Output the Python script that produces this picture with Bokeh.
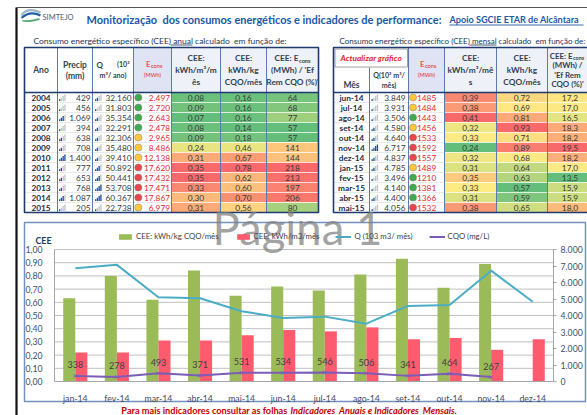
import numpy as np
from bokeh.plotting import figure
from bokeh.models import Range1d, LinearAxis, FixedTicker, CustomJSTickFormatter, Legend, LegendItem
from bokeh.core.properties import value
from bokeh.embed import file_html
from bokeh.resources import INLINE

# ---------------- data ----------------
years = ["2004", "2005", "2006", "2007", "2008", "2009", "2010", "2011", "2012", "2013", "2014", "2015"]
precip_mm = [429, 456, 1069, 394, 638, 708, 1400, 777, 653, 768, 1087, 205]
q_year = [32160, 31803, 35354, 32291, 32306, 35480, 39410, 50892, 50441, 53708, 60367, 22738]
econs_year = [2497, 2720, 2643, 2478, 2965, 8486, 12138, 17620, 17432, 17471, 17867, 6979]
cee_m3_year = [0.08, 0.09, 0.07, 0.08, 0.09, 0.24, 0.31, 0.35, 0.35, 0.33, 0.30, 0.31]
cee_kg_year = [0.16, 0.16, 0.16, 0.14, 0.18, 0.46, 0.67, 0.78, 0.62, 0.60, 0.70, 0.56]
cee_ef_year = [64, 68, 77, 57, 57, 141, 144, 218, 213, 197, 206, 80]

months_tab = ["jun-14", "jul-14", "ago-14", "set-14", "out-14", "nov-14", "dez-14",
              "jan-15", "fev-15", "mar-15", "abr-15", "mai-15"]
q_month = [3849, 3931, 3506, 4580, 4640, 6717, 4837, 4785, 3496, 4140, 4400, 4056]
econs_month = [1485, 1484, 1443, 1456, 1533, 1592, 1557, 1489, 1210, 1381, 1366, 1532]
cee_m3_month = [0.39, 0.38, 0.41, 0.32, 0.33, 0.24, 0.32, 0.31, 0.35, 0.33, 0.31, 0.38]
cee_kg_month = [0.72, 0.69, 0.81, 0.93, 0.71, 0.89, 0.68, 0.64, 0.63, 0.57, 0.59, 0.65]
cee_ef_month = [17.2, 17.0, 16.5, 18.3, 18.2, 19.5, 18.2, 17.0, 13.5, 15.9, 15.9, 18.0]

chart_months = ["jan-14", "fev-14", "mar-14", "abr-14", "mai-14", "jun-14",
                "jul-14", "ago-14", "set-14", "out-14", "nov-14", "dez-14"]
chart_cee_kg = [0.63, 0.80, 0.62, 0.84, 0.65, 0.72, 0.69, 0.81, 0.93, 0.71, 0.89, None]
chart_cee_m3 = [0.22, 0.22, 0.31, 0.31, 0.35, 0.39, 0.38, 0.41, 0.32, 0.33, 0.24, 0.32]
chart_q = [6870, 7070, 5110, 5050, 4260, 3849, 3931, 3506, 4580, 4640, 6717, 4837]
chart_cqo = [338, 278, 493, 371, 531, 534, 546, 506, 341, 464, 267, None]

# ---------------- helpers ----------------
def f_thou(v):
    return f"{int(round(v)):,}".replace(",", ".")

def f_dec(v, n):
    return f"{v:.{n}f}".replace(".", ",")

GREEN, YELLOW, RED = (99, 190, 123), (255, 235, 132), (248, 105, 107)

def mix(a, b, t):
    return "#%02x%02x%02x" % tuple(int(round(a[i] + (b[i] - a[i]) * t)) for i in range(3))

def scale3(vals):
    v = np.asarray(vals, float)
    lo, mid, hi = v.min(), np.median(v), v.max()
    out = []
    for x in v:
        if x <= mid:
            out.append(mix(GREEN, YELLOW, 0 if mid == lo else (x - lo) / (mid - lo)))
        else:
            out.append(mix(YELLOW, RED, (x - mid) / (hi - mid)))
    return out

L_G, L_Y, L_R = "#3faa4f", "#ffc83a", "#e8454c"
def traffic(vals):
    r = np.argsort(np.argsort(vals))
    n = len(vals)
    return [L_G if k < n / 3 else (L_Y if k < 2 * n / 3 else L_R) for k in r]

def level4(vals):
    v = np.asarray(vals, float)
    t = (v - v.min()) / (v.max() - v.min())
    return np.minimum(4, (t * 4).astype(int) + 1)

# ---------------- canvas ----------------
X0, X1, Y0, Y1 = 0.0, 587.0, 0.0, 415.0
W, H = 587, 415
SX, SY = W / (X1 - X0), H / (Y1 - Y0)
FS = (SX + SY) / 2
FONT = "Lato"
NB = "\u00a0"

p = figure(width=W, height=H, x_range=Range1d(X0, X1), y_range=Range1d(Y1, Y0),
           x_axis_type=None, y_axis_type=None, output_backend="svg", toolbar_location=None,
           min_border=0, outline_line_color=None, background_fill_color="white",
           border_fill_color="white")

def T(x, y, s, size, color="#262626", style="normal", align="center", baseline="middle",
      alpha=1.0, font=FONT, **kw):
    if not isinstance(s, (list, tuple)):
        s = [s]
    n = len(s)
    xs = list(x) if isinstance(x, (list, tuple, np.ndarray)) else [x] * n
    ys = list(y) if isinstance(y, (list, tuple, np.ndarray)) else [y] * n
    return p.text(x=xs, y=ys, text=list(s), text_font=value(font),
                  text_font_size=f"{size * FS:.2f}px", text_font_style=style,
                  text_color=color, text_align=align, text_baseline=baseline,
                  text_alpha=alpha, **kw)

def hline(x0, x1, y, color, w=1.0, dash="solid"):
    p.segment(x0=[x0], x1=[x1], y0=[y], y1=[y], line_color=color, line_width=w, line_dash=dash)

# page frame
p.segment(x0=[16], x1=[16], y0=[7], y1=[415], line_color="#111111", line_width=2.2)
hline(16, 587, 7, "#555555", 1)

# logo + title
p.bezier(x0=[21], y0=[15], x1=[40], y1=[12], cx0=[25], cy0=[8], cx1=[33], cy1=[9],
         line_color="#9fb6c8", line_width=2.2)
p.bezier(x0=[21], y0=[17.5], x1=[40], y1=[15], cx0=[27], cy0=[12], cx1=[34], cy1=[12],
         line_color="#1f5fa8", line_width=2.2)
p.bezier(x0=[22], y0=[20], x1=[39], y1=[18.5], cx0=[28], cy0=[22], cx1=[34], cy1=[20],
         line_color="#49a86a", line_width=1.8)
T(42, 16.5, "SIMTEJO", 7.5, "#4d5d72", align="left")
TITLE_C = "#2057a6"
T(86, 18.5, f"Monitorização{NB} dos consumos energéticos e indicadores de performance:",
  11.0, TITLE_C, "bold", align="left")
T(449, 18.5, "Apoio SGCIE ETAR de Alcântara", 9.1, TITLE_C, "bold", align="left")
hline(449, 583, 24.5, TITLE_C, 0.9)

SUB_C = "#1c3655"
T(33, 40, f"Consumo energético específico (CEE) anual calculado{NB} em função de:", 8.45,
  SUB_C, align="left")
hline(170, 192, 44.5, SUB_C, 0.8)
T(339, 40, f"Consumo energético específico (CEE) mensal calculado{NB} em função de:", 8.0,
  SUB_C, align="left")
hline(469, 496, 44.5, SUB_C, 0.8)

# ---------------- tables ----------------
HT, HB, RH = 47.0, 92.0, 10.0
nrow = len(years)
BOT = HB + RH * nrow
row_y = [HB + RH * (i + 0.5) for i in range(nrow)]
row_top = [HB + RH * i for i in range(nrow)]
row_bot = [HB + RH * (i + 1) for i in range(nrow)]
LC = [24, 57, 92, 133, 171, 220, 266, 318]
RC = [333, 369, 408, 444, 496, 547, 592]
HDR_TXT = "#333f50"
VAL_TXT = "#3a3a3a"
ECONS_RED = "#e0272c"
BORDER = "#1f3b6e"
DIV = "#5d7aae"

# header fills
p.quad(left=[LC[3], LC[4], RC[2], RC[3]], right=[LC[4], LC[7], RC[3], RC[6]],
       top=[HT] * 4, bottom=[HB] * 4, fill_color=["#dfe3f3", "#eef1f8", "#dfe3f3", "#eef1f8"],
       line_color=None)

def color_cells(xl, xr, vals, labels):
    p.quad(left=[xl] * nrow, right=[xr] * nrow, top=row_top, bottom=row_bot,
           fill_color=scale3(vals), line_color="white", line_width=0.6)
    T([(xl + xr) / 2] * nrow, row_y, labels, 8.3, VAL_TXT)

def bar_icons(x0, vals):
    lv = level4(vals)
    ls, rs, ts, bs, cs = [], [], [], [], []
    for i, l in enumerate(lv):
        for k in range(4):
            ls.append(x0 + k * 1.75)
            rs.append(x0 + k * 1.75 + 1.35)
            bs.append(row_y[i] + 3.6)
            ts.append(row_y[i] + 3.6 - (1.8 + 1.6 * k))
            cs.append("#234f96" if k < l else "#c4c4c4")
    p.quad(left=ls, right=rs, top=ts, bottom=bs, fill_color=cs, line_color=None)

def lights(x, vals):
    p.scatter(x=[x] * nrow, y=row_y, size=7.2 * FS, marker="circle",
              fill_color=traffic(vals), line_color="#7a7a7a", line_width=0.5)

# --- left table (annual)
color_cells(LC[4], LC[5], cee_m3_year, [f_dec(v, 2) for v in cee_m3_year])
color_cells(LC[5], LC[6], cee_kg_year, [f_dec(v, 2) for v in cee_kg_year])
color_cells(LC[6], LC[7], cee_ef_year, [f_dec(v, 0) for v in cee_ef_year])
T([40.5] * nrow, row_y, years, 8.3, "#1f2d3d", "bold")
bar_icons(58.5, precip_mm)
T([90] * nrow, row_y, [f_thou(v) for v in precip_mm], 8.3, VAL_TXT, align="right")
bar_icons(94.5, q_year)
T([131] * nrow, row_y, [f_thou(v) for v in q_year], 8.3, VAL_TXT, align="right")
lights(137.8, econs_year)
T([169.5] * nrow, row_y, [f_thou(v) for v in econs_year], 8.3, ECONS_RED, align="right")

# left header text
T(40.5, 69, "Ano", 8.5, HDR_TXT, "bold")
T(74.5, 64, "Precip", 8.5, HDR_TXT, "bold")
T(74.5, 75, "(mm)", 8.5, HDR_TXT, "bold")
T(96, 64, "Q", 8.0, HDR_TXT, "bold", align="left")
T(129, 64, "(10³", 7.1, HDR_TXT, "bold", align="right")
T(112.5, 74.5, "m³/ ano)", 7.1, HDR_TXT, "bold")
T(150, 63.5, "E", 8.0, ECONS_RED, align="right")
T(150.5, 65, "cons", 5.6, ECONS_RED, align="left")
T(152, 73.5, "(MWh)", 5.6, ECONS_RED)
for cx, lines in [(195.5, ["CEE:", "kWh/m³/m", "ês"]),
                  (243, ["CEE:", "kWh/kg", "CQO/mês"]),
                  (292, [None, "(MWh) / 'Ef", "Rem CQO (%)'"])]:
    for j, ln in enumerate(lines):
        if ln is not None:
            T(cx, 57.5 + 12 * j, ln, 8.3, HDR_TXT, "bold")
T(298, 57.5, "CEE: E", 8.3, HDR_TXT, "bold", align="right")
T(298.5, 59.5, "cons", 5.6, HDR_TXT, "bold", align="left")

# left borders
p.segment(x0=[LC[0]] * (nrow - 1), x1=[LC[4]] * (nrow - 1), y0=row_top[1:], y1=row_top[1:],
          line_color="#b5b5b5", line_width=0.6, line_dash="1 1")
p.segment(x0=LC[1:-1], x1=LC[1:-1], y0=[HT] * 6, y1=[BOT] * 6, line_color=DIV, line_width=1)
hline(LC[0], LC[-1], HB, BORDER, 1.3)
p.quad(left=[LC[0]], right=[LC[-1]], top=[HT], bottom=[BOT], fill_color=None,
       line_color=BORDER, line_width=1.6)

# --- right table (monthly)
color_cells(RC[3], RC[4], cee_m3_month, [f_dec(v, 2) for v in cee_m3_month])
color_cells(RC[4], RC[5], cee_kg_month, [f_dec(v, 2) for v in cee_kg_month])
color_cells(RC[5], RC[6], cee_ef_month, [f_dec(v, 1) for v in cee_ef_month])
T([351] * nrow, row_y, months_tab, 8.3, "#1f2d3d", "bold")
bar_icons(371, q_month)
T([405] * nrow, row_y, [f_thou(v) for v in q_month], 8.3, VAL_TXT, align="right")
lights(412.5, econs_month)
T([416.5] * nrow, row_y, [str(v) for v in econs_month], 8.3, ECONS_RED, align="left")

# right header
p.quad(left=[334.5], right=[407], top=[48.5], bottom=[66.5], fill_color="white",
       line_color="#a0a0a0", line_width=1)
T(370.7, 57.5, "Actualizar gráfico", 8.3, "#e3262b", "bold italic")
T(351, 84.5, "Mês", 8.5, HDR_TXT, "bold")
T(388.5, 74.5, "Q(10³ m³/", 7.1, HDR_TXT, "bold")
T(388.5, 85, "mês)", 7.1, HDR_TXT, "bold")
T(424, 63.5, "E", 8.0, ECONS_RED, align="right")
T(424.5, 65, "cons", 5.6, ECONS_RED, align="left")
T(426, 73.5, "(MWh)", 5.6, ECONS_RED)
for cx, lines in [(470, ["CEE:", "kWh/m³/mê", "s"]),
                  (521.5, ["CEE:", "kWh/kg", "CQO/mês"])]:
    for j, ln in enumerate(lines):
        T(cx, 57.5 + 12 * j, ln, 8.3, HDR_TXT, "bold")
T(572, 55, "CEE: E", 7.9, HDR_TXT, "bold", align="right")
T(572.5, 57, "cons", 5.4, HDR_TXT, "bold", align="left")
T(567, 64.5, "(MWh) /", 7.9, HDR_TXT, "bold")
T(567, 74, "'Ef Rem", 7.9, HDR_TXT, "bold")
T(567, 83.5, "CQO (%)'", 7.9, HDR_TXT, "bold")

p.segment(x0=[RC[0]] * (nrow - 1), x1=[RC[3]] * (nrow - 1), y0=row_top[1:], y1=row_top[1:],
          line_color="#b5b5b5", line_width=0.6, line_dash="1 1")
p.segment(x0=[RC[1]] + RC[2:-1], x1=[RC[1]] + RC[2:-1], y0=[67] + [HT] * 4, y1=[BOT] * 5,
          line_color=DIV, line_width=1)
hline(RC[0], RC[-1], HB, BORDER, 1.3)
p.quad(left=[RC[0]], right=[RC[-1]], top=[HT], bottom=[BOT], fill_color=None,
       line_color=BORDER, line_width=1.6)

# ---------------- chart ----------------
PL, PR = 54.0, 553.0      # plot area, px
PB, PT = 381.0, 249.0     # px of 0 and of the top of the axes
nc = len(chart_months)
cw = (PR - PL) / nc
ppu = PB - PT
QMAX = 8000
p.extra_x_ranges = {"cat": Range1d((X0 - PL) / cw, (X1 - PL) / cw)}
p.extra_y_ranges = {"cee": Range1d((PB - Y1) / ppu, (PB - Y0) / ppu),
                    "q": Range1d((PB - Y1) / ppu * QMAX, (PB - Y0) / ppu * QMAX)}

p.quad(left=[24], right=[585], top=[222], bottom=[401], fill_color="white",
       line_color="#7391c0", line_width=1.5)

grid_y = [round(0.1 * k, 1) for k in range(1, 11)]
p.segment(x0=[0] * len(grid_y), x1=[nc] * len(grid_y), y0=grid_y, y1=grid_y,
          x_range_name="cat", y_range_name="cee", line_color="#c0c0c0", line_width=1)

xc = np.arange(nc) + 0.5
kg = np.array([np.nan if v is None else v for v in chart_cee_kg], float)
m3 = np.array(chart_cee_m3, float)
qv = np.array(chart_q, float)
cqo = np.array([np.nan if v is None else v for v in chart_cqo], float)
BW = 0.29
g_bar = p.vbar(x=xc - BW / 2, top=kg, bottom=0, width=BW, x_range_name="cat", y_range_name="cee",
               fill_color="#9bbb59", line_color=None)
r_bar = p.vbar(x=xc + BW / 2, top=m3, bottom=0, width=BW, x_range_name="cat", y_range_name="cee",
               fill_color="#ff5b6e", line_color=None)
q_line = p.line(x=xc, y=qv, x_range_name="cat", y_range_name="q", line_color="#4bacc6",
                line_width=2)
c_line = p.line(x=xc, y=cqo, x_range_name="cat", y_range_name="q", line_color="#7b5db8",
                line_width=2)
c_mark = p.scatter(x=xc, y=cqo, marker="x", size=5, x_range_name="cat", y_range_name="q",
                   line_color="#7b5db8", line_width=1)
ok = ~np.isnan(cqo)
T(list(xc[ok]), list(cqo[ok]), [str(int(v)) for v in cqo[ok]], 9.0, "#404040",
  y_offset=-11, x_range_name="cat", y_range_name="q")

AX_C = "#3e4f66"
ax_l = LinearAxis(y_range_name="cee", fixed_location=PL, bounds=(0, 1),
                  ticker=FixedTicker(ticks=[round(0.1 * k, 1) for k in range(11)]),
                  formatter=CustomJSTickFormatter(code="return tick.toFixed(2).replace('.', ',');"))
ax_b = LinearAxis(x_range_name="cat", y_range_name="cee", fixed_location=0, bounds=(0, nc),
                  ticker=FixedTicker(ticks=list(xc)),
                  formatter=CustomJSTickFormatter(args=dict(labels=chart_months),
                                                  code="return labels[Math.round(tick - 0.5)];"))
ax_r = LinearAxis(y_range_name="q", fixed_location=PR, bounds=(0, QMAX),
                  ticker=FixedTicker(ticks=list(range(0, QMAX + 1, 1000))),
                  formatter=CustomJSTickFormatter(
                      code="return tick === 0 ? '0' : (tick / 1000).toFixed(3);"))
for ax in (ax_l, ax_b, ax_r):
    ax.major_label_text_font = FONT
    ax.major_label_text_font_size = f"{8.7 * FS:.2f}px"
    ax.major_label_text_color = AX_C
    ax.axis_line_color = "#a6a6a6"
    ax.minor_tick_line_color = None
ax_l.major_tick_line_color = None
ax_b.major_tick_line_color = None
ax_l.major_label_standoff = 6
ax_b.major_label_standoff = 5
ax_r.major_tick_in = 0
ax_r.major_tick_out = 3
ax_r.major_tick_line_color = "#a6a6a6"
ax_r.major_label_standoff = 4
p.add_layout(ax_l, "left")
p.add_layout(ax_b, "below")
p.add_layout(ax_r, "right")

T(43, 240, "CEE", 8.8, "#1f3a5f", "bold")

legend = Legend(items=[LegendItem(label="CEE: kWh/kg CQO/mês", renderers=[g_bar]),
                       LegendItem(label="CEE: kWh/m3/mês", renderers=[r_bar]),
                       LegendItem(label="Q (103 m3/ mês)", renderers=[q_line]),
                       LegendItem(label="CQO (mg/L)", renderers=[c_line, c_mark])],
                orientation="horizontal",
                location=((117 - X0) * SX, H - (241 - Y0) * SY),
                glyph_width=16, glyph_height=7, label_height=7, label_standoff=3,
                spacing=16, padding=0, margin=0, border_line_color=None,
                background_fill_alpha=0, label_text_font=FONT,
                label_text_font_size=f"{7.8 * FS:.2f}px", label_text_color="#404040")
p.add_layout(legend)

# footnote
T(287, 410, "Para mais indicadores consultar as folhas", 9.2, "#c00000", "bold", align="right")
T(290, 410, f"Indicadores{NB}{NB}Anuais e Indicadores{NB}{NB}Mensais.", 9.2, "#c00000",
  "bold italic", align="left")

# watermark
T(212, 227, "Página 1", 45.5, "#7f7f7f", align="left", baseline="alphabetic", alpha=0.72)

open("out.html", "w").write(file_html(p, INLINE))
